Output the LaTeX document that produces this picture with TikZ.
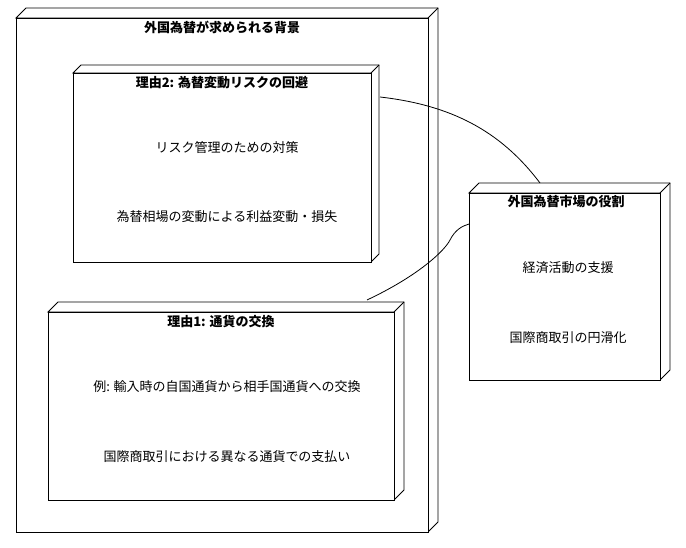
\documentclass[tikz,border=0pt]{standalone}
\usepackage{fontspec}
\newfontfamily\cjk{Noto Sans CJK JP}
\begin{document}
\begin{tikzpicture}[x=1pt,y=-1pt,
  lbl/.style={font=\cjk\fontsize{13}{15}\selectfont,inner sep=0},
  ttl/.style={font=\cjk\bfseries\fontsize{13}{15}\selectfont,inner sep=0},
  box/.style={draw=black,line width=0.9pt,fill=white},
  conn/.style={draw=black,line width=0.8pt}]
\useasboundingbox (0,0) rectangle (686,548);
\newcommand\nodebox[5]{% x1 y1 x2 y2 depth
  \draw[box] (#1,#2) -- ++(#5,-#5) -- (#3+#5,#2-#5) -- (#3+#5,#4-#5) -- (#3,#4) -- (#3,#2) -- cycle;
  \draw[box] (#1,#2) rectangle (#3,#4);
  \draw[line width=0.9pt] (#3,#2) -- (#3+#5,#2-#5);}
\nodebox{16}{18}{428}{532}{10}
\node[ttl] (t0) at (222,27) {外国為替が求められる背景};
\nodebox{73}{73}{371}{262}{8}
\node[ttl] (t2) at (222,83) {理由2: 為替変動リスクの回避};
\node[lbl] (a1) at (227,148) {リスク管理のための対策};
\node[lbl] (a2) at (227,217) {為替相場の変動による利益変動・損失};
\nodebox{48}{312}{394}{500}{10}
\node[ttl] (t1) at (221,322) {理由1: 通貨の交換};
\node[lbl] (b1) at (227,387) {例: 輸入時の自国通貨から相手国通貨への交換};
\node[lbl] (b2) at (227,457) {国際商取引における異なる通貨での支払い};
\nodebox{469}{193}{660}{380}{10}
\node[ttl] (t3) at (566,202) {外国為替市場の役割};
\node[lbl] (c1) at (568,268) {経済活動の支援};
\node[lbl] (c2) at (568,338) {国際商取引の円滑化};
\coordinate (p1) at (380,97);
\coordinate (q1) at (540,183);
\coordinate (p2) at (367,300);
\coordinate (q2) at (469,224);
\draw[conn] (p1) .. controls (450,105) and (500,130) .. (q1);
\draw[conn] (p2) .. controls (420,275) and (445,250) .. (450,240) .. controls (455,230) and (462,226) .. (q2);
\end{tikzpicture}
\end{document}
